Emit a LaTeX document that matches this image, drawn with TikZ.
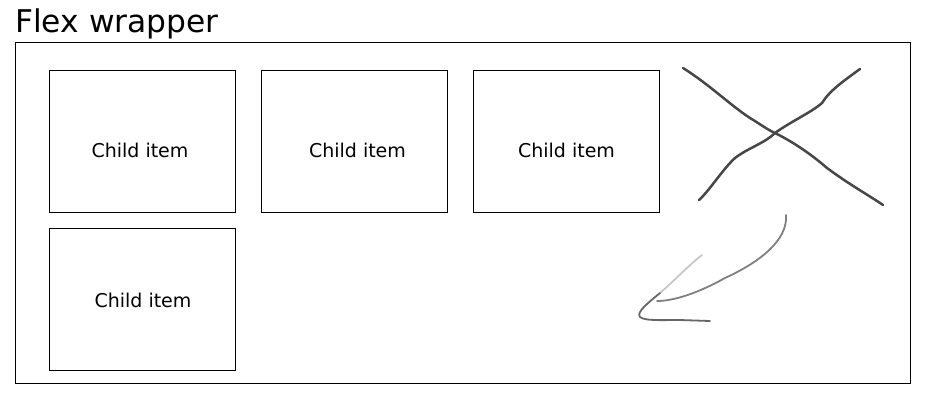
\documentclass[tikz,border=0pt]{standalone}
\usepackage{fontspec}
\setmainfont{DejaVu Sans}
\begin{document}
\begin{tikzpicture}[x=1pt,y=-1pt,
  frame/.style={draw=black,line width=1pt},
  child/.style={draw=black,line width=1pt,minimum width=186pt,minimum height=142pt,inner sep=0pt,anchor=north west},
  lbl/.style={inner sep=0pt,font=\fontsize{19}{21}\selectfont},
  sketch/.style={line width=2.5pt,draw=black!72,line cap=round,line join=round},
  sketchlight/.style={line width=1.8pt,line cap=round,line join=round}]
\useasboundingbox (0,0) rectangle (926,408);
\node[anchor=base west,inner sep=0pt,font=\fontsize{31.3}{33}\selectfont] (title) at (15,32) {Flex wrapper};
\draw[frame] (15,42) rectangle (910,383);
\node[child] (c1) at (49,70) {};
\node[child] (c2) at (261,70) {};
\node[child] (c3) at (473,70) {};
\node[child] (c4) at (49,228) {};
\node[lbl] (t1) at ([xshift=-2.5pt,yshift=-9pt]c1.center) {Child item};
\node[lbl] (t2) at ([xshift=3pt,yshift=-9pt]c2.center) {Child item};
\node[lbl] (t3) at ([xshift=0pt,yshift=-9pt]c3.center) {Child item};
\node[lbl] (t4) at ([xshift=0.5pt,yshift=-1pt]c4.center) {Child item};
% X mark
\draw[sketch] (683,68) .. controls (710,85) and (730,105) .. (750,118)
  .. controls (760,124) and (768,130) .. (775,133)
  .. controls (795,143) and (812,155) .. (827,168)
  .. controls (850,185) and (870,196) .. (883,205);
\draw[sketch] (699,200) .. controls (710,190) and (722,170) .. (735,158)
  .. controls (748,148) and (765,143) .. (775,133)
  .. controls (790,122) and (812,112) .. (822,103)
  .. controls (830,90) and (845,80) .. (860,69);
% arrow sketch
\draw[sketchlight,draw=black!50] (786,215) .. controls (788,240) and (760,262) .. (725,278)
  .. controls (700,292) and (675,301) .. (657,301);
\draw[sketchlight,draw=black!22] (702,255) .. controls (690,264) and (675,280) .. (660,293);
\draw[sketchlight,draw=black!60] (660,293) .. controls (648,303) and (636,312) .. (640,317)
  .. controls (645,321) and (660,320) .. (680,320) -- (710,321);
\end{tikzpicture}
\end{document}
